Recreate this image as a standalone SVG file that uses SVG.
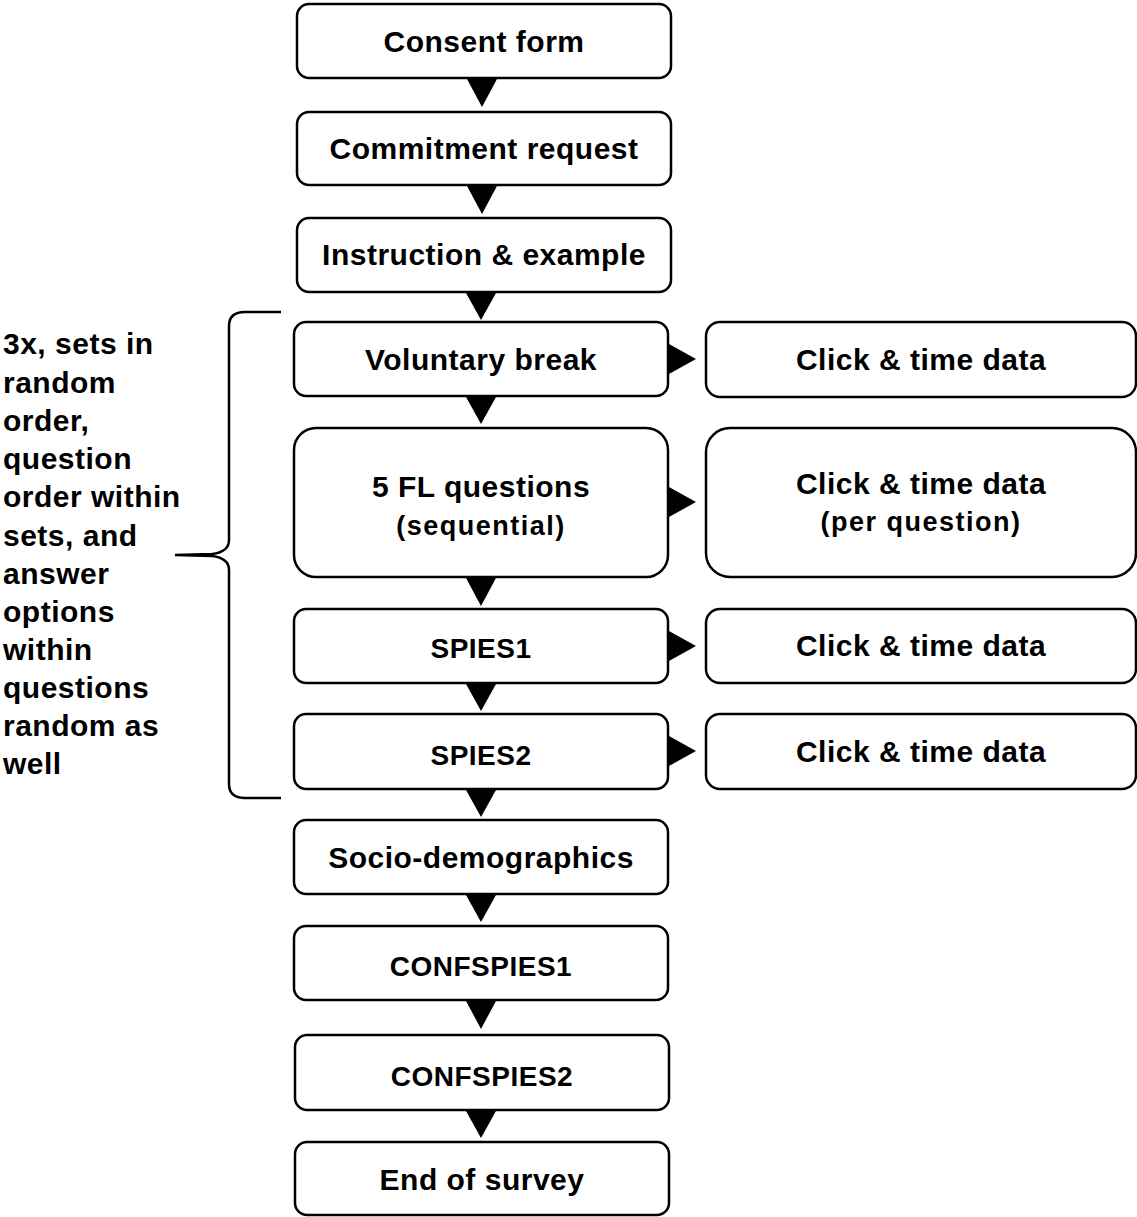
<svg xmlns="http://www.w3.org/2000/svg" width="1137" height="1217" viewBox="0 0 1137 1217">
<style>
.box{fill:#fff;stroke:#000;stroke-width:2.5}
.t{font-family:"Liberation Sans",Arial,sans-serif;font-weight:bold;font-size:30px;letter-spacing:0.5px;fill:#000;text-anchor:middle}
.c{font-size:28px}
.s{font-size:27px;letter-spacing:1.5px}
.l{font-family:"Liberation Sans",Arial,sans-serif;font-weight:bold;font-size:30px;letter-spacing:0.5px;fill:#000}
.arr{fill:#000}
</style>
<rect width="1137" height="1217" fill="#fff"/>
<g id="consent"><rect class="box" x="297" y="4" width="374" height="74" rx="12"/><text class="t" x="484" y="52">Consent form</text></g>
<g id="commitment"><rect class="box" x="297" y="112" width="374" height="73" rx="12"/><text class="t" x="484" y="159">Commitment request</text></g>
<g id="instruction"><rect class="box" x="297" y="218" width="374" height="74" rx="12"/><text class="t" x="484" y="265">Instruction &amp; example</text></g>
<g id="break"><rect class="box" x="294" y="322" width="374" height="74" rx="12"/><text class="t" x="481" y="370">Voluntary break</text></g>
<g id="fl"><rect class="box" x="294" y="428" width="374" height="149" rx="22"/><text class="t" x="481" y="497">5 FL questions</text><text class="t s" x="481" y="535">(sequential)</text></g>
<g id="spies1"><rect class="box" x="294" y="609" width="374" height="74" rx="12"/><text class="t c" x="481" y="658">SPIES1</text></g>
<g id="spies2"><rect class="box" x="294" y="714" width="374" height="75" rx="12"/><text class="t c" x="481" y="765">SPIES2</text></g>
<g id="socio"><rect class="box" x="294" y="820" width="374" height="74" rx="12"/><text class="t" x="481" y="868">Socio-demographics</text></g>
<g id="conf1"><rect class="box" x="294" y="926" width="374" height="74" rx="12"/><text class="t c" x="481" y="976">CONFSPIES1</text></g>
<g id="conf2"><rect class="box" x="295" y="1035" width="374" height="75" rx="12"/><text class="t c" x="482" y="1086">CONFSPIES2</text></g>
<g id="end"><rect class="box" x="295" y="1142" width="374" height="73" rx="12"/><text class="t" x="482" y="1190">End of survey</text></g>
<g id="click1"><rect class="box" x="706" y="322" width="430" height="75" rx="14"/><text class="t" x="921" y="370">Click &amp; time data</text></g>
<g id="click2"><rect class="box" x="706" y="428" width="430" height="149" rx="24"/><text class="t" x="921" y="494">Click &amp; time data</text><text class="t s" x="921" y="531">(per question)</text></g>
<g id="click3"><rect class="box" x="706" y="609" width="430" height="74" rx="14"/><text class="t" x="921" y="656">Click &amp; time data</text></g>
<g id="click4"><rect class="box" x="706" y="714" width="430" height="75" rx="14"/><text class="t" x="921" y="762">Click &amp; time data</text></g>
<g id="note"><text class="l"><tspan x="3" y="354">3x, sets in</tspan><tspan x="3" y="393">random</tspan><tspan x="3" y="431">order,</tspan><tspan x="3" y="469">question</tspan><tspan x="3" y="507">order within</tspan><tspan x="3" y="546">sets, and</tspan><tspan x="3" y="584">answer</tspan><tspan x="3" y="622">options</tspan><tspan x="3" y="660">within</tspan><tspan x="3" y="698">questions</tspan><tspan x="3" y="736">random as</tspan><tspan x="3" y="774">well</tspan></text>
<path d="M281 312 L245 312 Q229 312 229 326 L229 540 Q229 552 212 554 L175 555 L212 556 Q229 558 229 570 L229 784 Q229 798 245 798 L281 798" fill="none" stroke="#000" stroke-width="2.5"/></g>
<g id="connectors" class="arr">
<polygon points="467,79 497,79 482,107"/>
<polygon points="467,186 497,186 482,214"/>
<polygon points="466,293 496,293 481,320"/>
<polygon points="466,397 496,397 481,424"/>
<polygon points="466,578 496,578 481,606"/>
<polygon points="466,684 496,684 481,711"/>
<polygon points="466,790 496,790 481,817"/>
<polygon points="466,895 496,895 481,922"/>
<polygon points="466,1001 496,1001 481,1029"/>
<polygon points="466,1111 496,1111 481,1138"/>
<polygon points="669,344 669,374 696,359"/>
<polygon points="669,487 669,517 696,502"/>
<polygon points="669,631 669,661 696,646"/>
<polygon points="669,736 669,766 696,751"/>
</g>
</svg>
